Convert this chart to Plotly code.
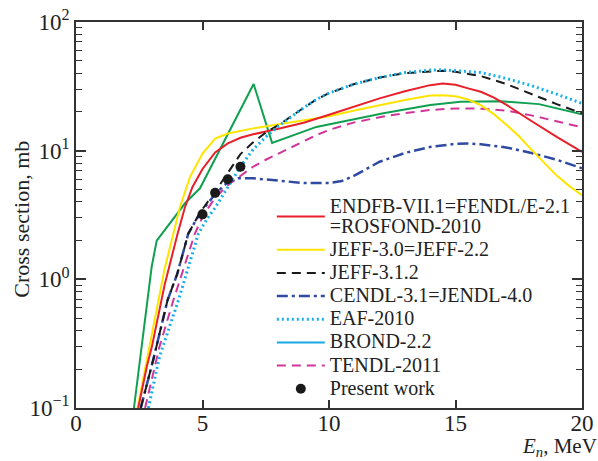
import plotly.graph_objects as go

# ---- evaluated cross sections (E in MeV, sigma in mb) ----
e_endfb = [2.46, 2.8, 3.0, 3.5, 4.0, 4.3, 4.6, 5.0, 5.5, 6.0, 6.5, 7.0, 8.0, 9.0, 10.0,
           11.0, 12.0, 13.0, 14.0, 14.5, 15.0, 15.5, 16.0, 16.5, 17.0, 18.0, 19.0, 20.0]
s_endfb = [0.1, 0.21, 0.3, 0.9, 2.2, 3.6, 5.2, 7.2, 9.7, 11.4, 12.6, 13.4, 14.8, 16.5, 19.0,
           22.0, 25.5, 29.0, 32.3, 33.3, 32.5, 30.5, 28.7, 26.0, 22.8, 17.0, 12.8, 9.8]

e_jeff30 = [2.43, 3.0, 3.5, 3.85, 4.1, 4.5, 5.0, 5.5, 6.0, 7.0, 8.0, 9.0, 10.0, 11.0, 12.0,
            13.0, 14.0, 14.5, 15.0, 15.5, 16.0, 16.5, 17.0, 17.5, 18.0, 18.5, 19.0, 19.5, 20.0]
s_jeff30 = [0.1, 0.38, 1.2, 2.27, 3.6, 6.2, 9.5, 12.4, 13.6, 14.9, 16.0, 17.0, 18.5, 20.5, 22.5,
            24.8, 26.8, 27.0, 26.5, 25.0, 22.6, 19.3, 16.0, 13.0, 10.2, 8.1, 6.4, 5.3, 4.5]

e_jeff312 = [2.56, 3.06, 3.62, 4.0, 4.44, 4.9, 5.5, 6.0, 6.5, 7.0, 7.5, 8.0, 8.5, 9.0, 9.5,
             10.0, 11.0, 12.0, 13.0, 14.0, 14.5, 15.0, 16.0, 17.0, 18.0, 19.0, 20.0]
s_jeff312 = [0.1, 0.24, 0.69, 1.1, 2.27, 3.3, 4.8, 6.8, 9.4, 11.6, 13.8, 15.8, 18.3, 21.5, 25.0,
             28.0, 33.0, 37.0, 40.0, 41.5, 41.8, 41.0, 38.0, 33.0, 27.5, 23.0, 19.5]

e_cendl = [2.56, 3.06, 3.62, 4.0, 4.44, 4.9, 5.5, 6.0, 6.4, 7.0, 8.0, 9.0, 10.0, 10.5, 11.0,
           11.5, 12.0, 13.0, 14.0, 15.0, 15.5, 16.0, 17.0, 18.0, 19.0, 20.0]
s_cendl = [0.1, 0.24, 0.69, 1.1, 2.27, 3.26, 4.6, 5.7, 6.1, 6.1, 5.85, 5.6, 5.6, 5.8, 6.4,
           7.3, 8.2, 9.6, 10.7, 11.3, 11.35, 11.2, 10.6, 9.6, 8.5, 7.3]

e_eaf = [2.86, 3.3, 4.05, 4.84, 5.2, 5.5, 6.0, 6.5, 7.0, 7.5, 8.0, 8.5, 9.0, 9.5, 10.0,
         11.0, 12.0, 13.0, 14.0, 14.5, 15.0, 16.0, 17.0, 18.0, 19.0, 20.0]
s_eaf = [0.1, 0.25, 0.69, 2.27, 3.0, 3.6, 5.2, 7.5, 10.2, 12.8, 15.5, 18.4, 21.6, 25.0, 28.0,
         33.0, 37.0, 40.5, 42.3, 42.5, 42.0, 40.5, 36.5, 32.0, 27.5, 23.3]

e_tendl = [2.73, 3.3, 3.85, 4.7, 5.05, 5.5, 6.0, 6.5, 7.0, 7.5, 8.0, 8.5, 9.0, 9.5, 10.0,
           11.0, 12.0, 13.0, 14.0, 15.0, 16.0, 17.0, 18.0, 19.0, 20.0]
s_tendl = [0.1, 0.3, 0.69, 2.27, 3.2, 4.3, 5.4, 6.4, 7.5, 8.5, 9.5, 10.6, 11.8, 13.2, 14.5,
           16.6, 18.2, 19.6, 20.7, 21.3, 21.2, 20.5, 18.8, 17.0, 15.2]

e_green = [2.29, 2.66, 2.99, 3.19, 3.45, 3.91, 4.31, 4.9, 7.02, 7.75, 9.5, 12.15, 14.0,
           15.2, 16.8, 18.3, 20.0]
s_green = [0.1, 0.38, 1.25, 2.0, 2.34, 3.06, 3.9, 5.1, 33.0, 11.5, 15.3, 19.5, 22.6,
           24.0, 24.2, 23.0, 19.2]

# ---- measurements ----
e_exp = [5.0, 5.5, 6.0, 6.5]
s_exp = [3.2, 4.7, 6.0, 7.5]
ds_exp = [0.26, 0.38, 0.48, 0.6]

# ---- axis ticks ----
y_major = [0.1, 1, 10, 100]
y_major_text = ["10<sup>−1</sup>", "10<sup>0</sup>", "10<sup>1</sup>", "10<sup>2</sup>"]
x_major = [0, 5, 10, 15, 20]
y_minor = [m * d for d in (0.1, 1, 10) for m in range(2, 10)]

FONT = "Liberation Serif, Times New Roman, serif"
AXIS = "#333333"
TXT = "#222222"


def lbl(text):
    return '<span style="font-size:20px">' + text + "</span>"


fig = go.Figure()

fig.add_trace(go.Scatter(x=e_green, y=s_green, mode="lines", showlegend=False,
                         line=dict(color="#10a050", width=2)))
fig.add_trace(go.Scatter(x=e_tendl, y=s_tendl, mode="lines", showlegend=False,
                         line=dict(color="#d0369a", width=2, dash="9px,6px")))
fig.add_trace(go.Scatter(x=e_cendl, y=s_cendl, mode="lines", showlegend=False,
                         line=dict(color="#2f4aa0", width=2.5, dash="11px,4px,3px,4px")))
fig.add_trace(go.Scatter(x=e_jeff30, y=s_jeff30, mode="lines", showlegend=False,
                         line=dict(color="#ffe400", width=2)))
fig.add_trace(go.Scatter(x=e_endfb, y=s_endfb, mode="lines", showlegend=False,
                         line=dict(color="#e8202a", width=2)))
fig.add_trace(go.Scatter(x=e_jeff312, y=s_jeff312, mode="lines", showlegend=False,
                         line=dict(color="#1a1a1a", width=2, dash="9px,6px")))
fig.add_trace(go.Scatter(x=e_eaf, y=s_eaf, mode="lines", showlegend=False,
                         line=dict(color="#18b0ea", width=3, dash="2px,3px")))

# legend entries, in the listed order
legend_items = [
    ("ENDFB-VII.1=FENDL/E-2.1<br>=ROSFOND-2010", dict(color="#e8202a", width=2)),
    ("JEFF-3.0=JEFF-2.2", dict(color="#ffe400", width=2)),
    ("JEFF-3.1.2", dict(color="#1a1a1a", width=2, dash="9px,6px")),
    ("CENDL-3.1=JENDL-4.0", dict(color="#2f4aa0", width=2.5, dash="11px,4px,3px,4px")),
    ("EAF-2010", dict(color="#18b0ea", width=3, dash="2px,3px")),
    ("BROND-2.2", dict(color="#18a8e6", width=2)),
    ("TENDL-2011", dict(color="#d0369a", width=2, dash="9px,6px")),
]
for name, ln in legend_items:
    fig.add_trace(go.Scatter(x=[None], y=[None], mode="lines", name=lbl(name), line=ln))

fig.add_trace(go.Scatter(
    x=e_exp, y=s_exp, mode="markers", name=lbl("Present work"),
    marker=dict(color="#1a1a1a", size=10),
    error_y=dict(type="data", array=ds_exp, color="#1a1a1a", thickness=1.5, width=0),
))

fig.update_layout(
    width=598, height=461,
    margin=dict(l=76, r=16, t=22, b=53),
    paper_bgcolor="white", plot_bgcolor="white",
    font=dict(family=FONT, color=TXT, size=20),
    legend=dict(x=0.387, y=0.565, xanchor="left", yanchor="top",
                font=dict(family=FONT, size=15.5, color=TXT),
                bgcolor="rgba(0,0,0,0)", itemwidth=48, tracegroupgap=0),
    xaxis=dict(range=[0, 20], tickvals=x_major, ticks="inside", ticklen=8,
               tickwidth=1.5, tickcolor=AXIS, showline=True, linecolor=AXIS,
               linewidth=1.5, mirror="ticks", showgrid=False, zeroline=False,
               automargin=False, ticklabelstandoff=-6,
               tickfont=dict(size=23, family=FONT, color=TXT)),
    yaxis=dict(type="log", range=[-1, 2], tickvals=y_major, ticktext=y_major_text,
               ticks="inside", ticklen=10, tickwidth=1.5, tickcolor=AXIS,
               showline=True, linecolor=AXIS, linewidth=1.5, mirror="ticks",
               showgrid=False, zeroline=False, automargin=False,
               tickfont=dict(size=23, family=FONT, color=TXT),
               minor=dict(tickvals=y_minor, ticks="inside", ticklen=6,
                          tickwidth=1.2, tickcolor=AXIS, showgrid=False)),
    annotations=[
        dict(text="Cross section, mb", xref="paper", yref="paper", x=-0.107, y=0.49,
             textangle=-90, showarrow=False, xanchor="center", yanchor="middle",
             font=dict(size=22, family=FONT, color=TXT)),
        dict(text="<i>E</i><sub><i>n</i></sub>, MeV", xref="paper", yref="paper",
             x=1.033, y=-0.101, showarrow=False, xanchor="right", yanchor="middle",
             font=dict(size=21, family=FONT, color=TXT)),
    ],
)

fig.write_html("out.html")
